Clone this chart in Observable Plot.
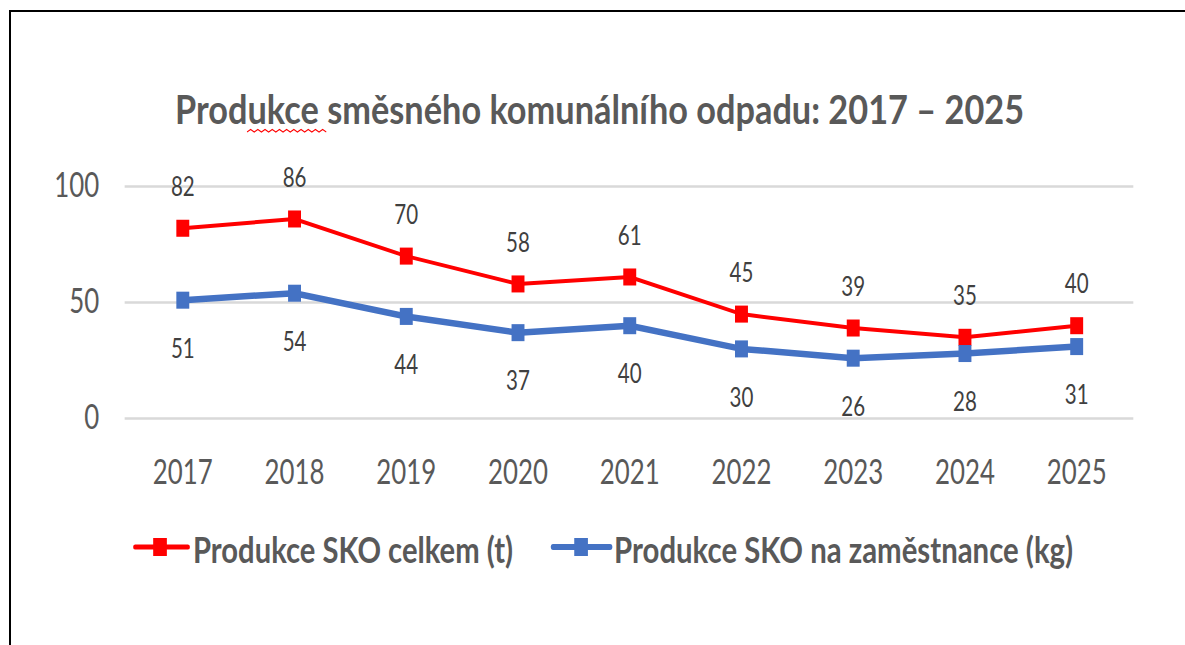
<!DOCTYPE html>
<html>
<head>
<meta charset="utf-8">
<script src="https://cdn.jsdelivr.net/npm/d3@7"></script>
<script src="https://cdn.jsdelivr.net/npm/@observablehq/plot@0.6"></script>
<style>
  html, body { margin: 0; padding: 0; background: #fff; overflow: hidden; }
  #page { position: relative; width: 1185px; height: 645px; overflow: hidden; }
  #frame { position: absolute; left: 9px; top: 10px; width: 1200px; height: 700px;
           border-left: 2px solid #000; border-top: 2px solid #000; }
  #squish { position: absolute; left: 0; top: 0; height: 645px; transform-origin: 0 0; }
  #squish > svg { position: absolute; left: 0; top: 0; }
</style>
</head>
<body>
<div id="page">
  <div id="squish"></div>
  <div id="frame"></div>
</div>
<script>
// ---- data ----
const years = ["2017", "2018", "2019", "2020", "2021", "2022", "2023", "2024", "2025"];
const celkem = [82, 86, 70, 58, 61, 45, 39, 35, 40];          // Produkce SKO celkem (t)
const naZamestnance = [51, 54, 44, 37, 40, 30, 26, 28, 31];   // Produkce SKO na zaměstnance (kg)
const seriesNames = ["Produkce SKO celkem (t)", "Produkce SKO na zaměstnance (kg)"];
const seriesColors = ["#ff0000", "#4472c4"];
const yTicks = [0, 50, 100];
const title = "Produkce směsného komunálního odpadu:  2017 – 2025";

// ---- layout (unsquished space; the reference is compressed horizontally) ----
const K = 0.76;
const W = Math.round(1185 / K);
const squish = document.getElementById("squish");
squish.style.width = W + "px";
squish.style.transform = `scaleX(${1185 / W})`;

const redRows = years.map((year, i) => ({year, value: celkem[i]}));
const blueRows = years.map((year, i) => ({year, value: naZamestnance[i]}));

const chart = Plot.plot({
  width: W,
  height: 645,
  marginLeft: 164,
  marginRight: 68,
  marginTop: 186,
  marginBottom: 227,
  style: {fontFamily: "Lato, 'Open Sans', sans-serif", fontSize: "33px", background: "transparent", overflow: "visible"},
  x: {type: "point", domain: years},
  y: {domain: [0, 100]},
  marks: [
    Plot.ruleY(yTicks, {stroke: "#d9d9d9", strokeWidth: 2.5}),
    Plot.axisY({ticks: yTicks, tickSize: 0, tickPadding: 34, fill: "#595959", fontSize: 34, label: null}),
    Plot.axisX({tickSize: 0, tickPadding: 41, fill: "#595959", fontSize: 34, label: null}),
    Plot.line(redRows, {x: "year", y: "value", stroke: seriesColors[0], strokeWidth: 4}),
    Plot.line(blueRows, {x: "year", y: "value", stroke: seriesColors[1], strokeWidth: 6.5}),
    Plot.dot(redRows, {x: "year", y: "value", symbol: "square", r: 9.6, fill: seriesColors[0]}),
    Plot.dot(blueRows, {x: "year", y: "value", symbol: "square", r: 9.6, fill: seriesColors[1]}),
    Plot.text(redRows, {x: "year", y: "value", text: d => String(d.value), dy: -41, fill: "#404040", fontSize: 27}),
    Plot.text(blueRows, {x: "year", y: "value", text: d => String(d.value), dy: 49, fill: "#404040", fontSize: 27})
  ]
});
squish.appendChild(chart);

// ---- title & legend overlay ----
const ov = d3.select(squish).append("svg")
  .attr("width", W).attr("height", 645)
  .style("font-family", "Lato, 'Open Sans', sans-serif");

ov.append("text")
  .attr("x", 175 / K).attr("y", 124)
  .attr("font-size", 40).attr("font-weight", 700).attr("fill", "#595959")
  .attr("textLength", 849 / K).attr("lengthAdjust", "spacingAndGlyphs")
  .text(title);

// spell-check wavy underline under "dukce"
{
  const x0 = 247 / K, x1 = 327 / K, y = 132, step = 3.6 / K;
  let dpath = `M${x0},${y}`;
  let up = true;
  for (let x = x0 + step; x <= x1; x += step) { dpath += `L${x},${up ? y - 2.5 : y}`; up = !up; }
  ov.append("path").attr("d", dpath).attr("fill", "none").attr("stroke", "#ff0000").attr("stroke-width", 1.2);
}

const legendItems = [
  {name: seriesNames[0], color: seriesColors[0], lx0: 135, lx1: 188, sq: 160, tx: 193, tw: 320, lw: 5},
  {name: seriesNames[1], color: seriesColors[1], lx0: 553, lx1: 610, sq: 581, tx: 614, tw: 459, lw: 6}
];
legendItems.forEach(it => {
  const g = ov.append("g");
  g.append("line")
    .attr("x1", it.lx0 / K).attr("x2", it.lx1 / K).attr("y1", 547).attr("y2", 547)
    .attr("stroke", it.color).attr("stroke-width", it.lw).attr("stroke-linecap", "round");
  g.append("rect")
    .attr("x", it.sq / K - 9).attr("y", 538).attr("width", 18).attr("height", 18)
    .attr("fill", it.color);
  g.append("text")
    .attr("x", it.tx / K).attr("y", 563)
    .attr("font-size", 36).attr("font-weight", 700).attr("fill", "#595959")
    .attr("textLength", it.tw / K).attr("lengthAdjust", "spacingAndGlyphs")
    .text(it.name);
});
</script>
</body>
</html>
